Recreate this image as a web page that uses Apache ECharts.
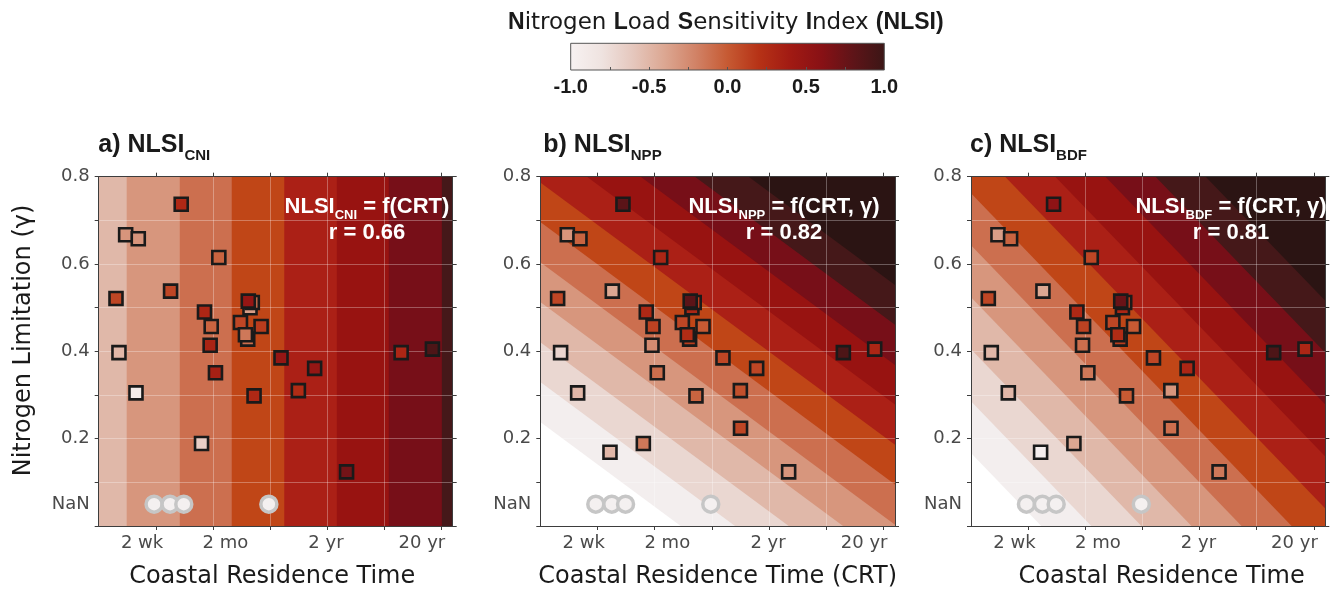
<!DOCTYPE html>
<html><head><meta charset="utf-8">
<script src="https://cdn.jsdelivr.net/npm/echarts@6/dist/echarts.min.js"></script>
<style>html,body{margin:0;padding:0;background:#fff}#c{width:1332px;height:594px}</style>
</head><body><div id="c"></div>
<script>
// ---------------- data ----------------
// x axis: position on the log CRT axis (axis units, one unit per tick)
const xTickPos   = [1, 2, 3, 4, 5, 6];
const xLabelPos  = [0.76, 2.22, 3.98, 5.66];
const xLabelText = ['2 wk', '2 mo', '2 yr', '20 yr'];
const yLabelPos  = [0.05, 0.2, 0.4, 0.6, 0.8];
const yLabelText = ['NaN', '0.2', '0.4', '0.6', '0.8'];

// sites: CRT position, gamma, observed NLSI for each metric (null = not available)
const crtPos   = [1.445, 0.472, 0.693, 2.104, 1.259, 0.303, 1.853, 1.970, 2.650, 2.690, 2.620, 2.483, 2.844, 2.610, 2.570, 1.952, 0.355, 2.045, 3.193, 3.782, 0.653, 2.721, 3.497, 5.297, 5.845, 1.801, 4.341, 1.218, 3.500];
const gammaVal = [0.737, 0.667, 0.658, 0.615, 0.538, 0.521, 0.490, 0.457, 0.500, 0.512, 0.515, 0.466, 0.457, 0.428, 0.438, 0.414, 0.397, 0.351, 0.385, 0.361, 0.305, 0.298, 0.310, 0.397, 0.405, 0.189, 0.124, 0.169, 0.224];
const nlsiCNI  = [0.28, -0.30, -0.30, -0.05, 0.10, 0.10, 0.30, -0.05, -0.35, -0.10, 0.50, 0.10, 0.15, -0.10, -0.15, 0.32, -0.50, 0.35, 0.50, 0.50, -0.90, 0.28, 0.25, 0.30, 0.90, -0.65, 0.70, null, null];
const nlsiNPP  = [0.82, -0.30, -0.05, 0.30, -0.40, 0.10, 0.28, 0.12, 0.30, 0.15, 0.82, 0.10, 0.00, 0.15, 0.25, -0.25, -0.70, -0.10, 0.10, 0.10, -0.50, -0.05, 0.05, 0.90, 0.30, -0.15, -0.30, -0.50, 0.10];
const nlsiBDF  = [0.55, -0.35, -0.05, 0.10, -0.40, 0.10, 0.28, 0.12, 0.30, 0.15, 0.75, 0.10, 0.00, 0.15, 0.25, -0.10, -0.50, -0.15, 0.10, 0.30, -0.50, 0.00, -0.30, 0.90, 0.30, -0.40, -0.15, -0.95, -0.10];
// sites with unknown gamma (drawn on the NaN row)
const nanCrtPos = [0.97, 1.25, 1.49, 2.98];
const nanRowY = 0.05;

// contour lines of the fitted NLSI surfaces (levels -1.0, -0.8, ... 0.8)
const contourAx      = [0.49, 1.42, 2.33, 3.25, 4.17, 5.08, 6.01];          // levels -0.4..0.8, vertical lines
const contourBLeft   = [0.238, 0.330, 0.421, 0.513, 0.604, 0.696, 0.787, 0.879, 0.970, 1.062, 1.153];
const contourBRight  = [-0.363, -0.271, -0.180, -0.088, 0.003, 0.095, 0.186, 0.278, 0.369, 0.461, 0.552];
const contourCLeft   = [0.167, 0.286, 0.405, 0.524, 0.643, 0.762, 0.881, 1.000, 1.119, 1.238, 1.357];
const contourCRight  = [-0.675, -0.556, -0.437, -0.318, -0.199, -0.080, 0.040, 0.159, 0.278, 0.397, 0.516];

const bandColors = ['#ffffff', '#f3eeee', '#ead7d1', '#e0b8a9', '#d7967d', '#cc6f4f', '#c04617', '#ab2016', '#981311', '#770f18', '#451819', '#2b1413'];
const cmapStops  = ['#f7f2f2', '#efe3e0', '#e5c7bd', '#dca792', '#d18266', '#c65a33', '#b63216', '#a11a13', '#881115', '#5e1418', '#3b1616'];

const panelLetters = ['a)', 'b)', 'c)'];
const panelSubs    = ['CNI', 'NPP', 'BDF'];
const panelFits    = ['f(CRT)', 'f(CRT, γ)', 'f(CRT, γ)'];
const panelR       = ['0.66', '0.82', '0.81'];
const xTitles      = ['Coastal Residence Time', 'Coastal Residence Time (CRT)', 'Coastal Residence Time'];
const cbTickPos    = [-0.75, -0.5, -0.25, 0, 0.25, 0.5, 0.75];
const cbLabelPos   = [-1, -0.5, 0, 0.5, 1];

// ---------------- layout ----------------
const X0 = 0, X1 = 6.2, Y0 = 0, Y1 = 0.8;
const grids = [
  {left: 98.7,  top: 176.7, width: 354,   height: 354},
  {left: 540.3, top: 176.7, width: 354.7, height: 354},
  {left: 971,   top: 176.7, width: 354.3, height: 354},
  {left: 570.7, top: 43.3,  width: 313.6, height: 26.7}
];
const annotX = [367, 784, 1231];
const titleX = [98.3, 543.3, 970];
const xNamePad = [[0, 7, 0, 0], [0, 0, 0, 0], [0, 0, 0, 27]];
const REG = 'DejaVu Sans', BOLD = 'Liberation Sans';
const axisCol = '#3d3d3d', labCol = '#4a4a4a';

function clipPoly(pts, x0, x1, y0, y1) {
  const edges = [
    [p => p[0] >= x0, (a, b) => { const t = (x0 - a[0]) / (b[0] - a[0]); return [x0, a[1] + t * (b[1] - a[1])]; }],
    [p => p[0] <= x1, (a, b) => { const t = (x1 - a[0]) / (b[0] - a[0]); return [x1, a[1] + t * (b[1] - a[1])]; }],
    [p => p[1] >= y0, (a, b) => { const t = (y0 - a[1]) / (b[1] - a[1]); return [a[0] + t * (b[0] - a[0]), y0]; }],
    [p => p[1] <= y1, (a, b) => { const t = (y1 - a[1]) / (b[1] - a[1]); return [a[0] + t * (b[0] - a[0]), y1]; }]
  ];
  let out = pts;
  for (const [inside, inter] of edges) {
    const inp = out; out = [];
    if (!inp.length) break;
    for (let i = 0; i < inp.length; i++) {
      const cur = inp[i], prev = inp[(i + inp.length - 1) % inp.length];
      const ci = inside(cur), pi = inside(prev);
      if (ci) { if (!pi) out.push(inter(prev, cur)); out.push(cur); }
      else if (pi) out.push(inter(prev, cur));
    }
  }
  return out;
}

function bandRenderer(vertical) {
  return function (params, api) {
    let poly;
    if (vertical) {
      const x = api.value(0);
      poly = [[x, Y0 - 1], [X1 + 1, Y0 - 1], [X1 + 1, Y1 + 1], [x, Y1 + 1]];
    } else {
      const yl = api.value(0), yr = api.value(1);
      poly = [[X0, yl], [X1, yr], [X1, yr + 10], [X0, yl + 10]];
    }
    poly = clipPoly(poly, X0, X1, Y0, Y1);
    if (poly.length < 3) return null;
    return {
      type: 'polygon',
      shape: {points: poly.map(p => api.coord(p))},
      style: {fill: bandColors[api.value(2)]}
    };
  };
}

const labelFrom = (pos, txt) => v => {
  const i = pos.findIndex(p => Math.abs(p - v) < 1e-6);
  return i >= 0 ? txt[i] : '';
};

const xAxis = [], yAxis = [], series = [], scatterIdx = [];
const nlsiSets = [nlsiCNI, nlsiNPP, nlsiBDF];

for (let i = 0; i < 3; i++) {
  xAxis.push({
    type: 'value', gridIndex: i, position: 'bottom', min: X0, max: X1, interval: 1, z: 3,
    axisLine: {show: true, onZero: false, lineStyle: {color: axisCol, width: 1}},
    axisTick: {show: true, inside: false, length: 4, customValues: xTickPos, lineStyle: {color: axisCol}},
    axisLabel: {show: true, customValues: xLabelPos, formatter: labelFrom(xLabelPos, xLabelText),
      margin: 8, color: labCol, fontFamily: REG, fontSize: 18},
    splitLine: {show: true, showMinLine: false, showMaxLine: false, lineStyle: {color: 'rgba(255,255,255,0.3)', width: 1}},
    name: xTitles[i], nameLocation: 'middle', nameGap: 39,
    nameTextStyle: {fontFamily: REG, fontSize: 24, color: '#1a1a1a', padding: xNamePad[i]}
  });
  xAxis.push({
    type: 'value', gridIndex: i, position: 'top', min: X0, max: X1, interval: 1, z: 3,
    axisLine: {show: true, onZero: false, lineStyle: {color: axisCol, width: 1}},
    axisTick: {show: true, inside: false, length: 4, customValues: xTickPos, lineStyle: {color: axisCol}},
    axisLabel: {show: false}, splitLine: {show: false}
  });
  yAxis.push({
    type: 'value', gridIndex: i, position: 'left', min: Y0, max: Y1, interval: 0.1, z: 3,
    axisLine: {show: true, onZero: false, lineStyle: {color: axisCol, width: 1}},
    axisTick: {show: true, inside: false, length: 4, lineStyle: {color: axisCol}},
    axisLabel: {show: true, customValues: yLabelPos, formatter: labelFrom(yLabelPos, yLabelText),
      margin: 9, color: labCol, fontFamily: REG, fontSize: 18},
    splitLine: {show: true, showMinLine: false, showMaxLine: false, lineStyle: {color: 'rgba(255,255,255,0.3)', width: 1}}
  });
  yAxis.push({
    type: 'value', gridIndex: i, position: 'right', min: Y0, max: Y1, interval: 0.1, z: 3,
    axisLine: {show: true, onZero: false, lineStyle: {color: axisCol, width: 1}},
    axisTick: {show: true, inside: false, length: 4, lineStyle: {color: axisCol}},
    axisLabel: {show: false}, splitLine: {show: false}
  });

  // contour bands
  let bandData;
  if (i === 0) bandData = contourAx.map((x, k) => [x, 0, 4 + k]);
  else if (i === 1) bandData = contourBLeft.map((yl, k) => [yl, contourBRight[k], 1 + k]);
  else bandData = contourCLeft.map((yl, k) => [yl, contourCRight[k], 1 + k]);
  series.push({
    type: 'custom', name: 'surface' + i, xAxisIndex: 2 * i, yAxisIndex: 2 * i, z: 1, silent: true,
    renderItem: bandRenderer(i === 0), data: bandData
  });

  // NaN-gamma sites
  series.push({
    type: 'scatter', name: 'nan' + i, xAxisIndex: 2 * i, yAxisIndex: 2 * i, z: 4, silent: true,
    symbol: 'circle', symbolSize: 16,
    itemStyle: {color: '#f4f0f0', borderColor: '#c6c6c6', borderWidth: 3.5, opacity: 1},
    data: nanCrtPos.map(x => [x, nanRowY])
  });

  // observed sites
  const vals = nlsiSets[i];
  const pts = [];
  for (let j = 0; j < crtPos.length; j++) if (vals[j] !== null) pts.push([crtPos[j], gammaVal[j], vals[j]]);
  scatterIdx.push(series.length);
  series.push({
    type: 'scatter', name: 'NLSI_' + panelSubs[i], xAxisIndex: 2 * i, yAxisIndex: 2 * i, z: 5, silent: true,
    symbol: 'rect', symbolSize: 13,
    itemStyle: {borderColor: '#1a1a1a', borderWidth: 2.6, opacity: 1},
    data: pts
  });
}

// colour bar axes
xAxis.push({
  type: 'value', gridIndex: 3, position: 'bottom', min: -1, max: 1, interval: 0.25, z: 3,
  axisLine: {show: false},
  axisTick: {show: true, inside: true, length: 3, customValues: cbTickPos, lineStyle: {color: '#555'}},
  axisLabel: {show: true, customValues: cbLabelPos, formatter: v => v.toFixed(1), margin: 7,
    color: '#1a1a1a', fontFamily: BOLD, fontWeight: 'bold', fontSize: 20},
  splitLine: {show: false}
});
yAxis.push({type: 'value', gridIndex: 3, min: 0, max: 1, show: false});
series.push({
  type: 'custom', name: 'colorbar', xAxisIndex: 6, yAxisIndex: 6, z: 1, silent: true,
  data: [[-1, 0, 1, 1]],
  renderItem: function (params, api) {
    const p0 = api.coord([api.value(0), api.value(3)]);
    const p1 = api.coord([api.value(2), api.value(1)]);
    return {
      type: 'rect',
      shape: {x: p0[0], y: p0[1], width: p1[0] - p0[0], height: p1[1] - p0[1]},
      style: {
        fill: new echarts.graphic.LinearGradient(0, 0, 1, 0,
          cmapStops.map((c, k) => ({offset: k / (cmapStops.length - 1), color: c}))),
        stroke: '#555', lineWidth: 1
      }
    };
  }
});

// ---------------- text ----------------
const graphics = [];
for (let i = 0; i < 3; i++) {
  graphics.push({
    type: 'text', z: 20, silent: true,
    style: {
      x: titleX[i], y: 126.75, align: 'left', verticalAlign: 'top',
      text: '{m|' + panelLetters[i] + ' NLSI}{s|' + panelSubs[i] + '}',
      rich: {
        m: {fontFamily: BOLD, fontWeight: 'bold', fontSize: 25, lineHeight: 37, verticalAlign: 'middle', fill: '#1a1a1a'},
        s: {fontFamily: BOLD, fontWeight: 'bold', fontSize: 15, lineHeight: 15, verticalAlign: 'bottom', fill: '#1a1a1a'}
      }
    }
  });
  graphics.push({
    type: 'text', z: 20, silent: true,
    style: {
      x: annotX[i], y: 192.3, align: 'center', verticalAlign: 'top',
      text: '{n|NLSI}{s|' + panelSubs[i] + '}{n| = ' + panelFits[i] + '}\n{r|r = ' + panelR[i] + '}',
      rich: {
        n: {fontFamily: BOLD, fontWeight: 'bold', fontSize: 22, lineHeight: 30, verticalAlign: 'middle', fill: '#ffffff'},
        s: {fontFamily: BOLD, fontWeight: 'bold', fontSize: 13, lineHeight: 13, verticalAlign: 'bottom', fill: '#ffffff'},
        r: {fontFamily: BOLD, fontWeight: 'bold', fontSize: 22, lineHeight: 22, verticalAlign: 'middle', fill: '#ffffff'}
      }
    }
  });
}
graphics.push({
  type: 'text', z: 20, silent: true, x: 24, y: 340.5, rotation: Math.PI / 2,
  style: {x: 0, y: 0, text: 'Nitrogen Limitation (γ)', fontFamily: REG, fontSize: 24, fill: '#1a1a1a',
    align: 'center', verticalAlign: 'middle'}
});
graphics.push({
  type: 'text', z: 20, silent: true,
  style: {
    x: 725.8, y: 23, align: 'center', verticalAlign: 'middle',
    text: '{b|N}{r|itrogen }{b|L}{r|oad }{b|S}{r|ensitivity }{b|I}{r|ndex }{b|(NLSI)}',
    rich: {
      b: {fontFamily: BOLD, fontWeight: 'bold', fontSize: 23, lineHeight: 28, verticalAlign: 'middle', fill: '#1a1a1a'},
      r: {fontFamily: REG, fontSize: 23, lineHeight: 28, verticalAlign: 'middle', fill: '#1a1a1a'}
    }
  }
});

const chart = echarts.init(document.getElementById('c'), null, {renderer: 'canvas'});
chart.setOption({
  animation: false,
  backgroundColor: '#ffffff',
  textStyle: {fontFamily: REG},
  grid: grids.map((g, i) => Object.assign({show: i < 3, backgroundColor: i === 0 ? bandColors[3] : '#ffffff', borderWidth: 0, containLabel: false}, g)),
  xAxis: xAxis,
  yAxis: yAxis,
  visualMap: {
    type: 'continuous', show: false, min: -1, max: 1, dimension: 2, seriesIndex: scatterIdx,
    inRange: {color: cmapStops}
  },
  series: series,
  graphic: graphics
});
</script>
</body></html>
